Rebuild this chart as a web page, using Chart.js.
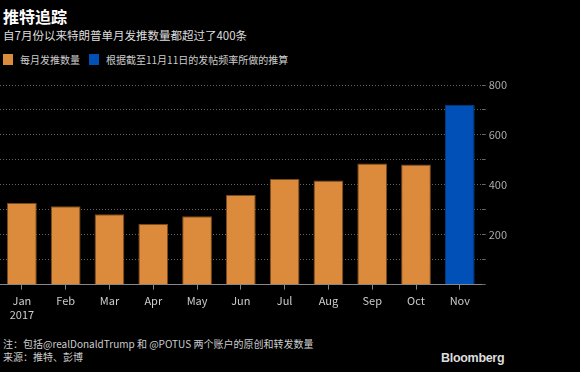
<!DOCTYPE html>
<html>
<head>
<meta charset="utf-8">
<script src="https://cdn.jsdelivr.net/npm/chart.js@4/dist/chart.umd.min.js"></script>
<style>
    html, body { margin: 0; padding: 0; background: #000; }
    body { width: 580px; height: 372px; position: relative; overflow: hidden; font-family: 'Noto Sans CJK SC', 'Noto Sans', sans-serif; color: #ddd; }
    .title { position: absolute; left: 3px; top: 4px; font-size: 16px; font-weight: bold; color: #fff; }
    .subtitle { position: absolute; left: 3px; top: 27px; font-size: 11.5px; color: #ddd; }
    .legend { position: absolute; left: 3px; top: 52px; font-size: 10px; color: #ccc; display: flex; align-items: center; }
    .sw { width: 10px; height: 11px; display: inline-block; margin-right: 7px; }
    .legend span.item { display: flex; align-items: center; margin-right: 9px; }
    .chart-box { position: absolute; left: 0; top: 70px; width: 580px; height: 256px; }
    .note { position: absolute; left: 3px; top: 337px; font-size: 10px; color: #ccc; line-height: 13px; }
    .brand { position: absolute; left: 441px; top: 351px; font-size: 12.5px; font-weight: bold; color: #ddd; font-family: 'Liberation Sans', Arial, sans-serif; letter-spacing: -0.3px; }
</style>
</head>
<body>
<div class="title">推特追踪</div>
<div class="subtitle">自7月份以来特朗普单月发推数量都超过了400条</div>
<div class="legend">
    <span class="item"><span class="sw" style="background:#dc8a3b"></span>每月发推数量</span>
    <span class="item"><span class="sw" style="background:#0050b8"></span>根据截至11月11日的发帖频率所做的推算</span>
</div>
<div class="chart-box"><canvas id="tweets-chart" width="580" height="256"></canvas></div>
<div class="note">注：包括@realDonaldTrump 和 @POTUS 两个账户的原创和转发数量<br>来源：推特、彭博</div>
<div class="brand">Bloomberg</div>
<script>
const months = [['Jan', '2017'], 'Feb', 'Mar', 'Apr', 'May', 'Jun', 'Jul', 'Aug', 'Sep', 'Oct', 'Nov'];
const tweetCounts = [327, 314, 282, 243, 274, 359, 423, 417, 485, 481, 721];
const projected = [false, false, false, false, false, false, false, false, false, false, true];
const yTicks = [200, 400, 600, 800];

const ORANGE = '#dc8a3b';
const BLUE = '#0050b8';

const ctx = document.getElementById('tweets-chart');
new Chart(ctx, {
    type: 'bar',
    data: {
        labels: months,
        datasets: [{
            data: tweetCounts,
            backgroundColor: projected.map(p => p ? BLUE : ORANGE),
            borderColor: projected.map(p => p ? '#0a3a80' : '#7a4a1c'),
            borderWidth: 1,
            categoryPercentage: 1,
            barPercentage: 0.68
        }]
    },
    options: {
        responsive: false,
        animation: false,
        layout: { padding: { top: 15, right: 70, left: 0, bottom: 0 } },
        plugins: { legend: { display: false }, tooltip: { enabled: false } },
        scales: {
            x: {
                border: { color: '#888', width: 1 },
                grid: { offset: false, drawOnChartArea: false, drawTicks: true, tickLength: 5, color: '#888' },
                ticks: { color: '#ccc', font: { family: 'Noto Sans CJK SC', size: 11 }, padding: 5, maxRotation: 0 }
            },
            y: {
                position: 'right',
                min: 0,
                max: 800,
                border: { display: false, dash: [1, 2] },
                grid: { color: '#666', tickLength: 4, drawTicks: true },
                ticks: {
                    stepSize: 100,
                    color: '#aaa',
                    padding: 3,
                    font: { family: 'Noto Sans CJK SC', size: 11 },
                    callback: v => yTicks.includes(v) ? v : ''
                }
            }
        }
    }
});
</script>
</body>
</html>
